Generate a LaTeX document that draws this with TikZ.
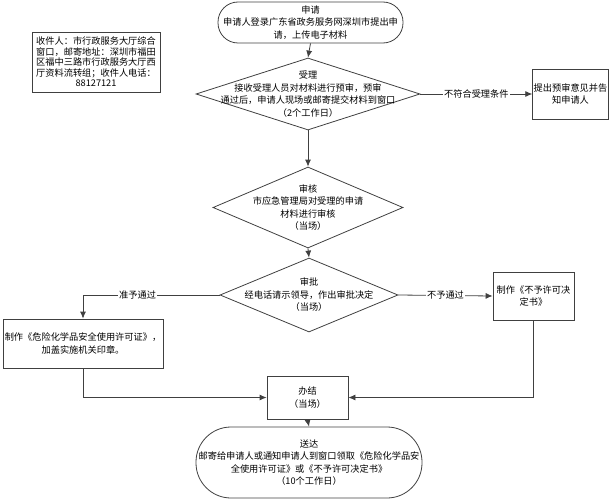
\documentclass[tikz,border=0pt]{standalone}
\usepackage{fontspec}
\setmainfont{Noto Sans CJK SC}
\usetikzlibrary{shapes.geometric,arrows.meta,positioning}

\begin{document}
\begin{tikzpicture}
[x=1pt,y=-1pt,
font=\fontsize{9.2pt}{12.5pt}\selectfont,
term/.style={draw=black!75,line width=.8pt,rounded corners=20pt,align=center,inner sep=1pt},
box/.style={draw=black!75,line width=.8pt,align=center,inner sep=1pt},
dia/.style={shape=diamond,draw=black!75,line width=.8pt,inner sep=0pt},
txt/.style={align=center,inner sep=0pt},
dedge/.style={>={Latex[length=7pt,width=6pt]}, ->, draw=black!75, line width=.8pt},
lbl/.style={fill=white,inner sep=1pt}]

\useasboundingbox (0,0) rectangle (615,500);

% start
\node[term,minimum width=185pt,minimum height=41pt] (apply) at (310.5,22.5)
  {申请\\申请人登录广东省政务服务网深圳市提出申\\请，上传电子材料};

% address note
\node[box,minimum width=128pt,minimum height=60pt,font=\fontsize{9.2pt}{10.5pt}\selectfont] (note) at (96,62)
  {收件人：市行政服务大厅综合\\窗口，邮寄地址：深圳市福田\\区福中三路市行政服务大厅西\\厅资料流转组；收件人电话：\\88127121};

% accept
\node[dia,minimum width=224pt,minimum height=72pt] (accept) at (308,94) {};
\node[txt] (accepttxt) at (accept)
  {受理\\接收受理人员对材料进行预审，预审\\通过后，申请人现场或邮寄提交材料到窗口\\（2个工作日）};
\draw[dedge] (apply.south) -- (accept.north);

% not accepted
\node[box,minimum width=75pt,minimum height=50pt] (notify) at (570.5,94) {提出预审意见并告\\知申请人};
\draw[dedge] (accept.east) -- (notify.west) node[lbl,pos=.5] {不符合受理条件};

% review
\node[dia,minimum width=190pt,minimum height=81pt] (review) at (308,207.5) {};
\node[txt] (reviewtxt) at (review) {审核\\市应急管理局对受理的申请\\材料进行审核\\（当场）};
\draw[dedge] (accept.south) -- (review.north);

% approve
\node[dia,minimum width=178pt,minimum height=74pt] (approve) at (309,295) {};
\node[txt] (approvetxt) at (approve) {审批\\经电话请示领导，作出审批决定\\（当场）};
\draw[dedge] (review.south) -- (approve.north);

% permit and deny
\node[box,minimum width=160pt,minimum height=49pt] (permit) at (83,343.5)
  {制作《危险化学品安全使用许可证》，\\加盖实施机关印章。};
\node[box,minimum width=81pt,minimum height=48pt] (deny) at (533.5,296) {制作《不予许可决\\定书》};
\draw[dedge] (approve.west) -| (permit.north) node[lbl,pos=.3] {准予通过};
\draw[dedge] (approve.east) -- (deny.west) node[lbl,pos=.5] {不予通过};

% done
\node[box,minimum width=81pt,minimum height=43pt] (done) at (307.5,397.5) {办结\\（当场）};
\draw[dedge] (permit.south) |- (done.west);
\draw[dedge] (deny.south) |- (done.east);

% deliver
\node[term,rounded corners=35pt,minimum width=226pt,minimum height=71pt] (deliver) at (309,462.5)
  {送达\\邮寄给申请人或通知申请人到窗口领取《危险化学品安\\全使用许可证》或《不予许可决定书》\\（10个工作日）};
\draw[dedge] (done.south) -- (deliver.north);
\end{tikzpicture}
\end{document}
